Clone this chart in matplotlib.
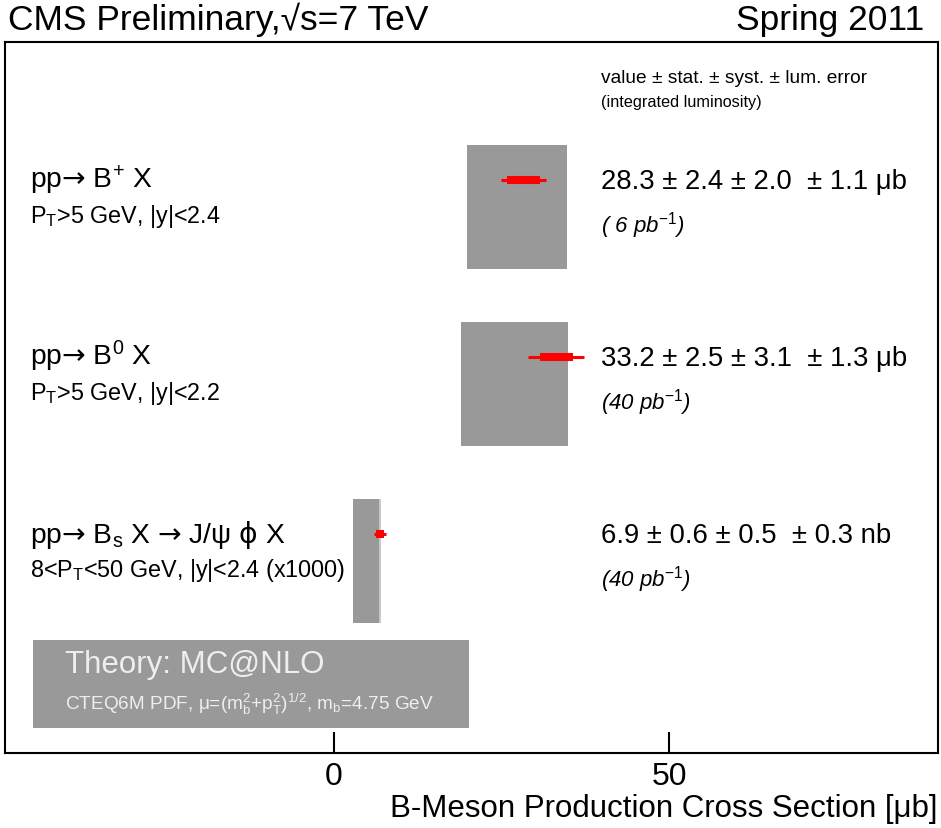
import matplotlib
matplotlib.use('Agg')
import matplotlib.pyplot as plt
from matplotlib.patches import Rectangle
import numpy as np

plt.rcParams['font.family'] = ['Liberation Sans', 'DejaVu Sans']
plt.rcParams['mathtext.fontset'] = 'custom'
plt.rcParams['mathtext.rm'] = 'Liberation Sans'
plt.rcParams['mathtext.it'] = 'Liberation Sans:italic'
plt.rcParams['mathtext.bf'] = 'Liberation Sans:bold'
plt.rcParams['mathtext.sf'] = 'DejaVu Sans'
plt.rcParams['mathtext.fallback'] = 'stixsans'

ARROW = '$\\mathsf{→}$'

# ---------------- data ----------------
channels = ['pp' + ARROW + ' B$^{\\mathrm{+}}$ X',
            'pp' + ARROW + ' B$^{\\mathrm{0}}$ X',
            'pp' + ARROW + ' B$_{\\mathrm{s}}$ X ' + ARROW + ' J/ψ $\\mathsf{\\phi}$ X']
cuts = ['P$_{\\mathrm{T}}$>5 GeV, |y|<2.4', 'P$_{\\mathrm{T}}$>5 GeV, |y|<2.2',
        '8<P$_{\\mathrm{T}}$<50 GeV, |y|<2.4 (x1000)']
values = [28.3, 33.2, 6.9]
stat = [2.4, 2.5, 0.6]
syst = [2.0, 3.1, 0.5]
lumi = [1.1, 1.3, 0.3]
units = ['μb', 'μb', 'nb']
int_lumi = ['( 6 pb$^{\\mathit{-1}}$)', '(40 pb$^{\\mathit{-1}}$)', '(40 pb$^{\\mathit{-1}}$)']
theory_lo = [19.9, 19.0, 2.9]
theory_hi = [34.8, 35.0, 6.7]
theory_edge = [34.8, 35.0, 7.0]
xticks = [0, 50]

# ---------------- layout ----------------
fig = plt.figure(figsize=(9.41, 8.29), dpi=100)
ax = fig.add_axes([5/941, 75/829, 933/941, 711/829])
ax.set_xlim(-49, 90.1)
ax.set_ylim(4.017, 0)

rows = 0.93 + np.arange(len(values))
half = 0.35
dy_pt = -0.153
box_col = '#999999'

for i, y in enumerate(rows):
    # theory band
    ax.add_patch(Rectangle((theory_lo[i], y - half), theory_edge[i] - theory_lo[i], 2 * half,
                           facecolor='#c8c8c8', edgecolor='none', zorder=1))
    ax.add_patch(Rectangle((theory_lo[i], y - half), theory_hi[i] - theory_lo[i], 2 * half,
                           facecolor=box_col, edgecolor='none', zorder=2))
    # measurement
    v = values[i]
    tot = np.sqrt(stat[i]**2 + syst[i]**2 + lumi[i]**2)
    yp = y + dy_pt
    ax.hlines(yp, v - tot, v + tot, colors='#ff0000', lw=2.2, zorder=5)
    ax.hlines(yp, v - stat[i], v + stat[i], colors='#ff0000', lw=5.8, zorder=6)
    # labels
    ax.text(-45.2, y - 0.107, channels[i], fontsize=20.3, va='baseline', ha='left')
    ax.text(-45.2, y + 0.085, cuts[i], fontsize=16.8, va='baseline', ha='left')
    txt = f'{v} ± {stat[i]} ± {syst[i]}  ± {lumi[i]} {units[i]}'
    ax.text(39.9, y - 0.107, txt, fontsize=19.8, va='baseline', ha='left')
    ax.text(39.9, y + 0.14, int_lumi[i], fontsize=16, style='italic', va='baseline', ha='left')

# header
ax.text(39.9, 0.228, 'value ± stat. ± syst. ± lum. error', fontsize=13.8, va='baseline')
ax.text(39.9, 0.36, '(integrated luminosity)', fontsize=11.7, va='baseline')

# theory legend box
ax.add_patch(Rectangle((-44.9, 3.379), 65.1, 0.497, facecolor=box_col, edgecolor='none', zorder=2))
ax.text(-40.0, 3.56, 'Theory: MC@NLO', fontsize=22.5, color='#eeeeee', va='baseline', zorder=3)
ax.text(-40.0, 3.77, 'CTEQ6M PDF, μ=(m$_{\\mathrm{b}}^{2}$+p$_{\\mathrm{T}}^{2}$)$^{1/2}$, m$_{\\mathrm{b}}$=4.75 GeV',
        fontsize=13.7, color='#eeeeee', va='baseline', zorder=3)

# axes styling
for s in ax.spines.values():
    s.set_linewidth(1.5)
ax.set_yticks([])
ax.set_xticks(xticks)
ax.set_xticklabels([str(t) for t in xticks])
ax.tick_params(axis='x', direction='in', length=15, width=1.5, labelsize=23, pad=6)
ax.set_xlabel('B-Meson Production Cross Section [μb]', fontsize=22.5, loc='right', labelpad=1)

fig.text(8/941, 1 - 30/829, 'CMS Preliminary,√s=7 TeV', fontsize=25.5, va='baseline', ha='left')
fig.text(924/941, 1 - 30/829, 'Spring 2011', fontsize=25.5, va='baseline', ha='right')

fig.savefig('out.png', dpi=100)
